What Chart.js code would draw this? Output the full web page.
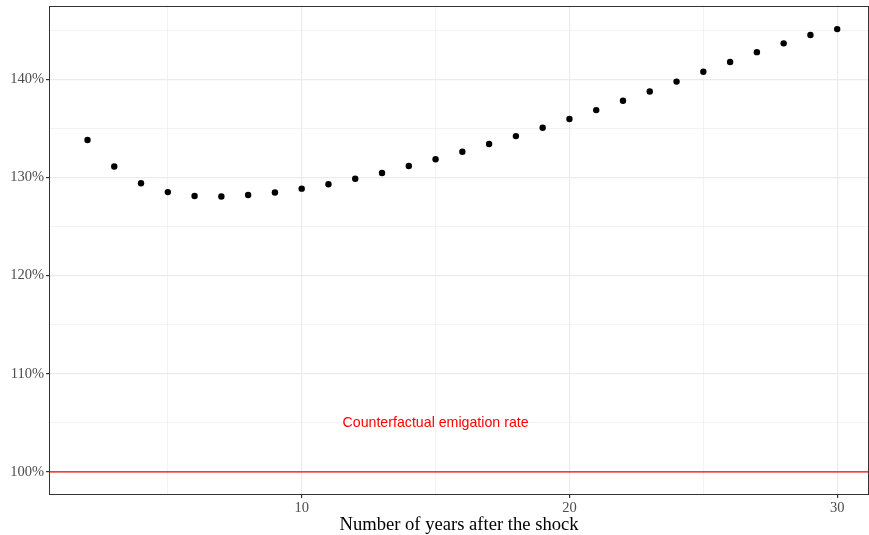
<!DOCTYPE html>
<html>
<head>
<meta charset="utf-8">
<script src="https://cdn.jsdelivr.net/npm/chart.js@4"></script>
<style>
  html, body { margin: 0; padding: 0; background: #fff; overflow: hidden; }
  canvas { display: block; }
</style>
</head>
<body>
<canvas id="emigChart" width="872" height="535"></canvas>
<script>
// years after the shock and emigration rate relative to counterfactual (%)
const years = [2, 3, 4, 5, 6, 7, 8, 9, 10, 11, 12, 13, 14, 15, 16, 17, 18, 19, 20, 21, 22, 23, 24, 25, 26, 27, 28, 29, 30];
const emigRate = [133.8, 131.1, 129.4, 128.5, 128.1, 128.05, 128.2, 128.45, 128.85, 129.3, 129.85, 130.45, 131.15, 131.85, 132.6, 133.4, 134.2, 135.05, 135.95, 136.85, 137.8, 138.75, 139.75, 140.75, 141.75, 142.75, 143.65, 144.5, 145.1];
const xTicks = [5, 10, 15, 20, 25, 30];
const yTicks = [100, 105, 110, 115, 120, 125, 130, 135, 140, 145];
const baseline = 100;
const baselineLabel = 'Counterfactual emigation rate';
const labelPos = { x: 15, y: 105 };

const isMajor = v => v % 10 === 0;

const panelPlugin = {
    id: 'panel',
    afterDatasetsDraw(chart) {
        const { ctx, chartArea: a, scales } = chart;
        const yb = scales.y.getPixelForValue(baseline);
        ctx.save();
        ctx.strokeStyle = '#ff0000';
        ctx.lineWidth = 1.1;
        ctx.beginPath();
        ctx.moveTo(a.left, yb);
        ctx.lineTo(a.right, yb);
        ctx.stroke();
        ctx.fillStyle = '#ff0000';
        ctx.font = '14.2px "Liberation Sans", Arial, sans-serif';
        ctx.textAlign = 'center';
        ctx.textBaseline = 'middle';
        ctx.fillText(baselineLabel, scales.x.getPixelForValue(labelPos.x), scales.y.getPixelForValue(labelPos.y));
        ctx.strokeStyle = '#333333';
        ctx.lineWidth = 1;
        ctx.strokeRect(a.left - 0.5, a.top - 0.5, a.right - a.left + 1, a.bottom - a.top + 1);
        ctx.restore();
    }
};

new Chart(document.getElementById('emigChart').getContext('2d'), {
    type: 'scatter',
    data: {
        datasets: [{
            data: years.map((x, i) => ({ x: x, y: emigRate[i] })),
            backgroundColor: '#000000',
            borderColor: '#000000',
            pointRadius: 3.2,
            borderWidth: 0
        }]
    },
    options: {
        responsive: false,
        animation: false,
        layout: { padding: { left: 0, top: 7, right: 0, bottom: 0 } },
        plugins: {
            legend: { display: false },
            tooltip: { enabled: false }
        },
        scales: {
            x: {
                type: 'linear',
                min: 0.6,
                max: 31.15,
                afterBuildTicks: scale => { scale.ticks = xTicks.map(v => ({ value: v })); },
                afterFit: scale => {
                    scale.height = 41;
                    scale.paddingLeft = 0;
                    scale.paddingRight = 0;
                },
                border: { display: false },
                grid: {
                    color: ctx => '#ebebeb',
                    lineWidth: ctx => isMajor(ctx.tick.value) ? 1.2 : 0.6,
                    tickColor: ctx => isMajor(ctx.tick.value) ? '#333333' : 'rgba(0,0,0,0)',
                    tickLength: 4
                },
                ticks: {
                    autoSkip: false,
                    maxRotation: 0,
                    padding: 1,
                    color: '#4d4d4d',
                    font: { family: '"Liberation Serif", "Times New Roman", serif', size: 14.5 },
                    callback: v => isMajor(v) ? String(v) : ''
                },
                title: {
                    display: true,
                    text: 'Number of years after the shock',
                    color: '#000000',
                    font: { family: '"Liberation Serif", "Times New Roman", serif', size: 18.6, lineHeight: 1.2 },
                    padding: { top: 0, bottom: -1 }
                }
            },
            y: {
                type: 'linear',
                min: 97.75,
                max: 147.35,
                afterBuildTicks: scale => { scale.ticks = yTicks.map(v => ({ value: v })); },
                afterFit: scale => {
                    scale.width = 50;
                    scale.paddingTop = 0;
                    scale.paddingBottom = 0;
                },
                border: { display: false },
                grid: {
                    color: ctx => '#ebebeb',
                    lineWidth: ctx => isMajor(ctx.tick.value) ? 1.2 : 0.6,
                    tickColor: ctx => isMajor(ctx.tick.value) ? '#333333' : 'rgba(0,0,0,0)',
                    tickLength: 4
                },
                ticks: {
                    autoSkip: false,
                    padding: 2,
                    color: '#4d4d4d',
                    font: { family: '"Liberation Serif", "Times New Roman", serif', size: 14.5 },
                    callback: v => isMajor(v) ? v + '%' : ''
                }
            }
        }
    },
    plugins: [panelPlugin]
});
</script>
</body>
</html>
